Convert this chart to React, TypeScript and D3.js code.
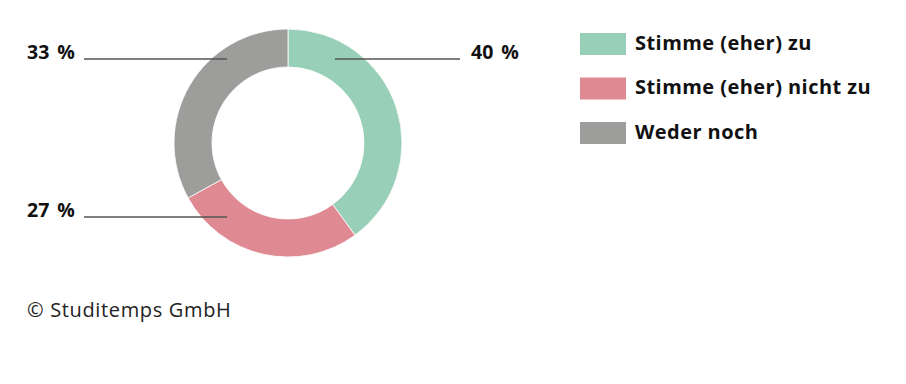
import React from "react";
import * as d3 from "d3";

const categories = ["Stimme (eher) zu", "Stimme (eher) nicht zu", "Weder noch"];
const values = [40, 27, 33];
const colors = ["#98cfb8", "#df8a93", "#9d9d9c"];
const labels = ["40 %", "27 %", "33 %"];

export default function App() {
  const W = 906, H = 384;
  const cx = 288, cy = 143, rO = 114, rI = 76;
  const pie = d3.pie<number>().sort(null).value((d) => d)(values);
  const arc = d3.arc<d3.PieArcDatum<number>>().innerRadius(rI).outerRadius(rO);
  const font = "'Open Sans', 'Noto Sans', sans-serif";
  const leaders = [
    { i: 0, y: cy - 84, x1: cx + 47, x2: 460, tx: 471 },
    { i: 2, y: cy - 84, x1: cx - 61, x2: 84, tx: 27 },
    { i: 1, y: cy + 74, x1: cx - 61, x2: 84, tx: 27 },
  ];
  return (
    <svg width={W} height={H} style={{ position: "absolute", left: 0, top: 0 }}>
      <rect width={W} height={H} fill="#fff" />
      <g transform={`translate(${cx},${cy})`}>
        {pie.map((p, i) => (
          <path key={i} d={arc(p) || ""} fill={colors[i]} stroke="#fff" strokeWidth={0.8} />
        ))}
      </g>
      {leaders.map((l) => (
        <g key={l.i}>
          <line x1={l.x1} x2={l.x2} y1={l.y} y2={l.y} stroke="#555" strokeWidth={1.3} />
          <text x={l.tx} y={l.y - 5.5} dominantBaseline="middle" fontFamily={font} fontWeight={700} fontSize={19.5} fill="#111" wordSpacing={3}>
            {labels[l.i]}
          </text>
        </g>
      ))}
      {categories.map((c, i) => (
        <g key={c} transform={`translate(580,${33 + i * 44.5})`}>
          <rect width={46} height={22} fill={colors[i]} />
          <text x={55} y={11.5} dominantBaseline="middle" fontFamily={font} fontWeight={700} fontSize={20} fill="#111" letterSpacing={0.45}>
            {c}
          </text>
        </g>
      ))}
      <text x={27} y={311.5} dominantBaseline="middle" fontFamily={font} fontSize={20} fill="#222" letterSpacing={0.65}>
        © Studitemps GmbH
      </text>
    </svg>
  );
}
